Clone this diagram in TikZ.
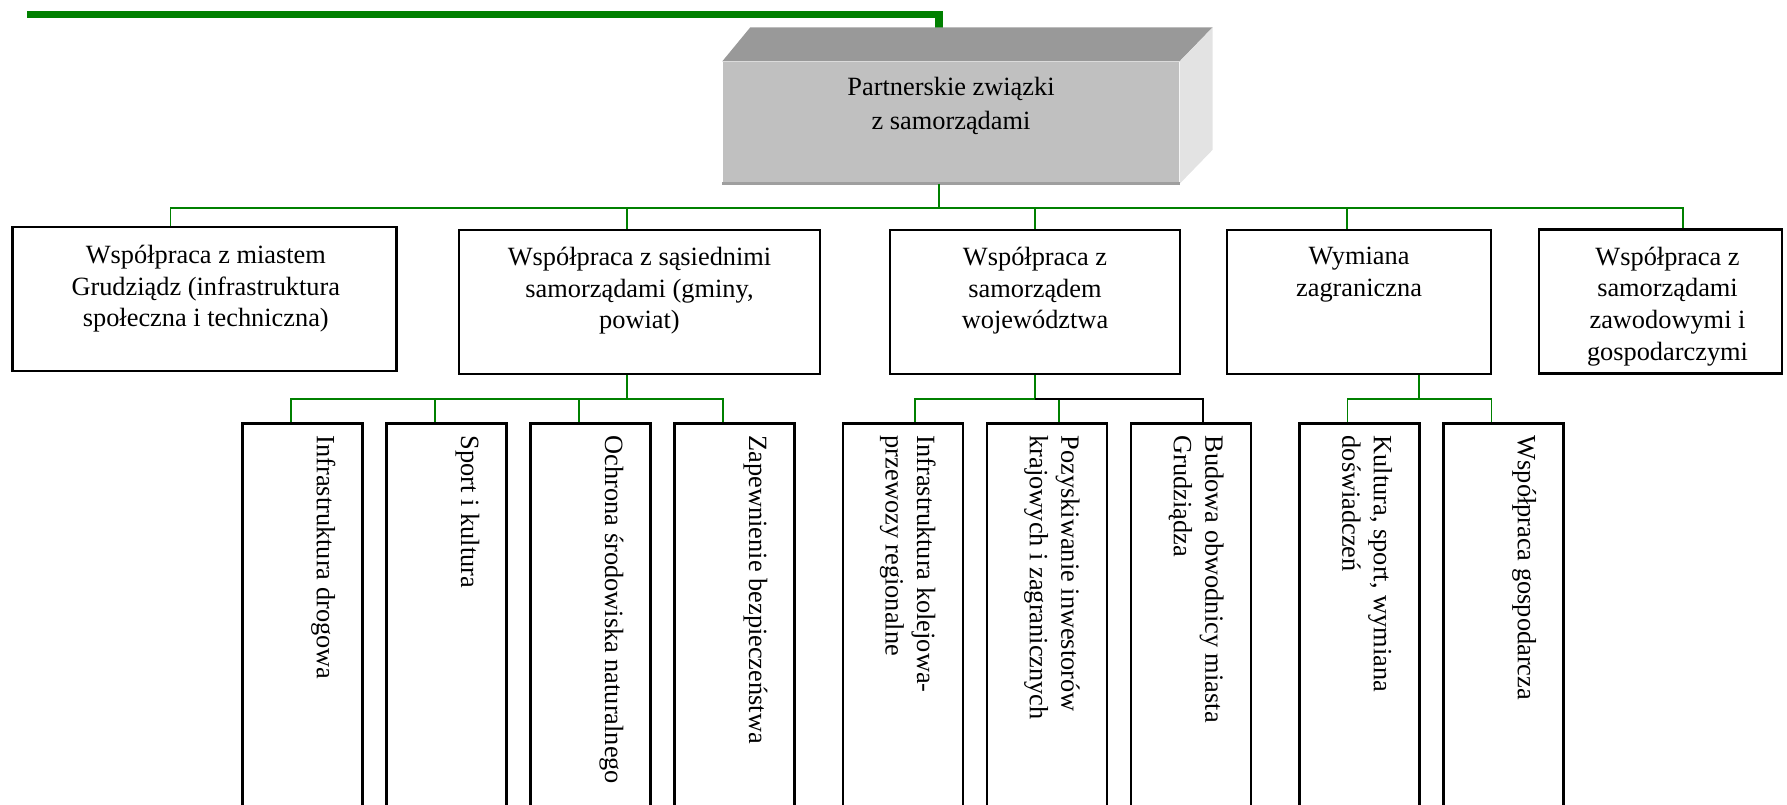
\documentclass[tikz,border=0pt]{standalone}
\usepackage{fontspec}
\setmainfont{Liberation Serif}
\usepackage{xcolor}
\usetikzlibrary{calc}
\definecolor{linegreen}{HTML}{008000}
\definecolor{frontgray}{HTML}{C0C0C0}
\definecolor{topgray}{HTML}{999999}
\definecolor{sidegray}{HTML}{E3E3E3}

\begin{document}
\begin{tikzpicture}[
    font=\fontsize{7.5}{9}\selectfont,
    link/.style={draw=linegreen, line width=0.55pt},
    unit/.style={draw, line width=0.8pt, fill=white, minimum height=1.44cm, inner sep=0pt},
    task/.style={draw, line width=0.8pt, fill=white, minimum width=1.2cm, minimum height=4.3cm, anchor=north, inner sep=0pt},
    unittext/.style={anchor=north, align=center, inner sep=0pt},
    tasktext/.style={rotate=-90, anchor=north west, align=left, inner sep=0pt}
]
    \useasboundingbox (0,0) rectangle (17.87,-8.04);
    \clip (0,0) rectangle (17.87,-8.04);

    % Green line at the top
    \coordinate (lstart) at (0.27,-0.145);
    \coordinate (lcorner) at (9.39,-0.145);
    \coordinate (lend) at (9.39,-0.30);
    \draw[linegreen, line width=2pt] (lstart) -- (lcorner) -- (lend);

    % Main box (3D)
    \node[fill=frontgray, minimum width=4.56cm, minimum height=1.21cm, inner sep=0pt] (main) at (9.51,-1.225) {};
    \fill[topgray] (main.north west) -- ++(0.28,0.34) -- ($(main.north east)+(0.33,0.34)$) -- (main.north east) -- cycle;
    \fill[sidegray] (main.north east) -- ++(0.33,0.34) -- ($(main.south east)+(0.33,0.34)$) -- (main.south east) -- cycle;
    \draw[gray!75, line width=1pt] (main.south west) -- (main.south east);
    \node[unittext, font=\fontsize{7.5}{9.8}\selectfont] (mainT) at ($(main.north)+(0,-0.15)$) {Partnerskie związki\\z samorządami};

    % Level 1
    \node[unit, minimum width=3.84cm] (A) at (2.048,-2.99) {};
    \node[unit, minimum width=3.61cm] (B) at (6.395,-3.02) {};
    \node[unit, minimum width=2.90cm] (C) at (10.35,-3.02) {};
    \node[unit, minimum width=2.64cm] (D) at (13.59,-3.02) {};
    \node[unit, minimum width=2.43cm] (E) at (16.605,-3.015) {};

    \node[unittext] (AT) at ($(A.north)+(0.01,-0.19)$) {Współpraca z miastem\\Grudziądz (infrastruktura\\społeczna i techniczna)};
    \node[unittext] (BT) at ($(B.north)+(0,-0.18)$) {Współpraca z sąsiednimi\\samorządami (gminy,\\powiat)};
    \node[unittext] (CT) at ($(C.north)+(0,-0.18)$) {Współpraca z\\samorządem\\województwa};
    \node[unittext] (DT) at ($(D.north)+(0,-0.18)$) {Wymiana\\zagraniczna};
    \node[unittext] (ET) at ($(E.north)+(0.07,-0.18)$) {Współpraca z\\samorządami\\zawodowymi i\\gospodarczymi};

    \draw[link] ($(main.south)+(-0.12,0)$) -- ++(0,-0.24) coordinate (bus1);
    \draw[link] ($(A.north)+(-0.343,0)$) |- (bus1);
    \draw[link] ($(B.north)+(-0.125,0)$) |- (bus1);
    \draw[link] (C.north) |- (bus1);
    \draw[link] ($(D.north)+(-0.12,0)$) |- (bus1);
    \draw[link] ($(E.north)+(0.225,0)$) |- (bus1);

    % Level 2
    \foreach \name/\x/\txt in {
        b1/3.027/{Infrastruktura drogowa},
        b2/4.467/{Sport i kultura},
        b3/5.907/{Ochrona środowiska naturalnego},
        b4/7.347/{Zapewnienie bezpieczeństwa},
        c1/9.03/{Infrastruktura kolejowa-\\przewozy regionalne},
        c2/10.47/{Pozyskiwanie inwestorów\\krajowych i zagranicznych},
        c3/11.91/{Budowa obwodnicy miasta\\Grudziądza},
        d1/13.595/{Kultura, sport, wymiana\\doświadczeń},
        d2/15.035/{Współpraca gospodarcza}} {
        \node[task] (\name) at (\x,-4.22) {};
        \node[tasktext] (\name T) at ($(\name.north east)+(-0.28,-0.13)$) {\txt};
    }

    \draw[link] ($(B.south)+(-0.125,0)$) -- ++(0,-0.24) coordinate (busB);
    \foreach \name in {b1,b2,b3,b4}
        \draw[link] ($(\name.north)+(-0.12,0)$) |- (busB);

    \draw[link] (C.south) -- ++(0,-0.24) coordinate (busC);
    \draw[link] ($(c1.north)+(0.12,0)$) |- (busC);
    \draw[link] ($(c2.north)+(0.12,0)$) |- (busC);
    \draw[line width=0.55pt] ($(c3.north)+(0.12,0)$) |- (busC);

    \draw[link] ($(D.south)+(0.6,0)$) -- ++(0,-0.24) coordinate (busD);
    \draw[link] ($(d1.north)+(-0.12,0)$) |- (busD);
    \draw[link] ($(d2.north)+(-0.12,0)$) |- (busD);
\end{tikzpicture}
\end{document}
